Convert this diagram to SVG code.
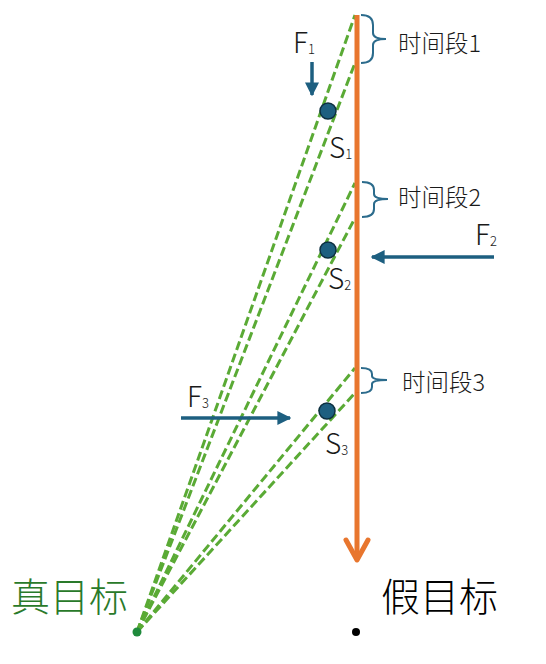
<svg xmlns="http://www.w3.org/2000/svg" width="546" height="664" viewBox="0 0 546 664">
<defs>
<style>
.g{stroke:#5aaa35;stroke-width:3;stroke-dasharray:9 4;fill:none}
.br{stroke:#2b6b8c;stroke-width:2;fill:none}
.f{stroke:#1d5f80;stroke-width:3.5;fill:none}
.t{font-family:"Noto Sans CJK SC","Noto Sans",sans-serif;fill:#1a1a1a;font-weight:300}
.lb{font-size:28px}
.tm{font-size:23.5px}
.sub{font-size:13px}
.ball{fill:#1d5f80;stroke:#0d2f40;stroke-width:1.5}
</style>
<marker id="ah" viewBox="0 0 10 10" refX="9" refY="5" markerWidth="4" markerHeight="4" orient="auto" markerUnits="strokeWidth">
<path d="M0,0 L10,5 L0,10 Z" fill="#1d5f80"/>
</marker>
</defs>
<g id="connectors">
<path class="g" d="M137,632 L355,15"/>
<path class="g" d="M137,632 L355,63"/>
<path class="g" d="M137,632 L355,183"/>
<path class="g" d="M137,632 L355,218"/>
<path class="g" d="M137,632 L355,368"/>
<path class="g" d="M137,632 L355,393"/>
<path d="M357,15 L357,560" stroke="#e8762e" stroke-width="5" fill="none"/>
<path d="M346,540 L357,560 L368,540" stroke="#e8762e" stroke-width="5" fill="none" stroke-linecap="round" stroke-linejoin="round"/>
<path class="f" d="M312,62 L312,95" marker-end="url(#ah)"/>
<path class="f" d="M494,257 L372,257" marker-end="url(#ah)"/>
<path class="f" d="M181,418 L290,418" marker-end="url(#ah)"/>
</g>
<g id="brace1"><path class="br" d="M361,15 Q373,15 373,25 L373,33 Q373,39 386,39 Q373,39 373,45 L373,53 Q373,63 361,63"/>
<text class="t tm" x="398" y="52">时间段1</text></g>
<g id="brace2"><path class="br" d="M362,182 Q374,182 374,190 L374,194 Q374,199 388,199 Q374,199 374,204 L374,209 Q374,217 362,217"/>
<text class="t tm" x="398" y="206">时间段2</text></g>
<g id="brace3"><path class="br" d="M361,368 Q372,368 372,374 L372,376 Q372,380 387,380 Q372,380 372,384 L372,387 Q372,393 361,393"/>
<text class="t tm" x="402" y="391">时间段3</text></g>
<g id="F1"><text class="t lb" x="293" y="53">F<tspan class="sub" dy="1">1</tspan></text></g>
<g id="F2"><text class="t lb" x="475" y="245">F<tspan class="sub" dy="1">2</tspan></text></g>
<g id="F3"><text class="t lb" x="187" y="407">F<tspan class="sub" dy="1">3</tspan></text></g>
<g id="S1"><circle class="ball" cx="328" cy="111" r="8"/><text class="t lb" x="329" y="158">S<tspan class="sub" dy="1">1</tspan></text></g>
<g id="S2"><circle class="ball" cx="328" cy="250" r="8"/><text class="t lb" x="328" y="289">S<tspan class="sub" dy="1">2</tspan></text></g>
<g id="S3"><circle class="ball" cx="327" cy="411" r="8"/><text class="t lb" x="325" y="454">S<tspan class="sub" dy="1">3</tspan></text></g>
<g id="true-target"><circle cx="137" cy="632" r="4.5" fill="#1f8a3c"/>
<text x="11" y="611" font-size="39" style="font-family:'Noto Sans CJK SC',sans-serif;font-weight:300;fill:#2a7a2a">真目标</text></g>
<g id="false-target"><circle cx="356" cy="632" r="4" fill="#000"/>
<text x="381" y="611" font-size="39" style="font-family:'Noto Sans CJK SC',sans-serif;font-weight:300;fill:#000">假目标</text></g>
</svg>
